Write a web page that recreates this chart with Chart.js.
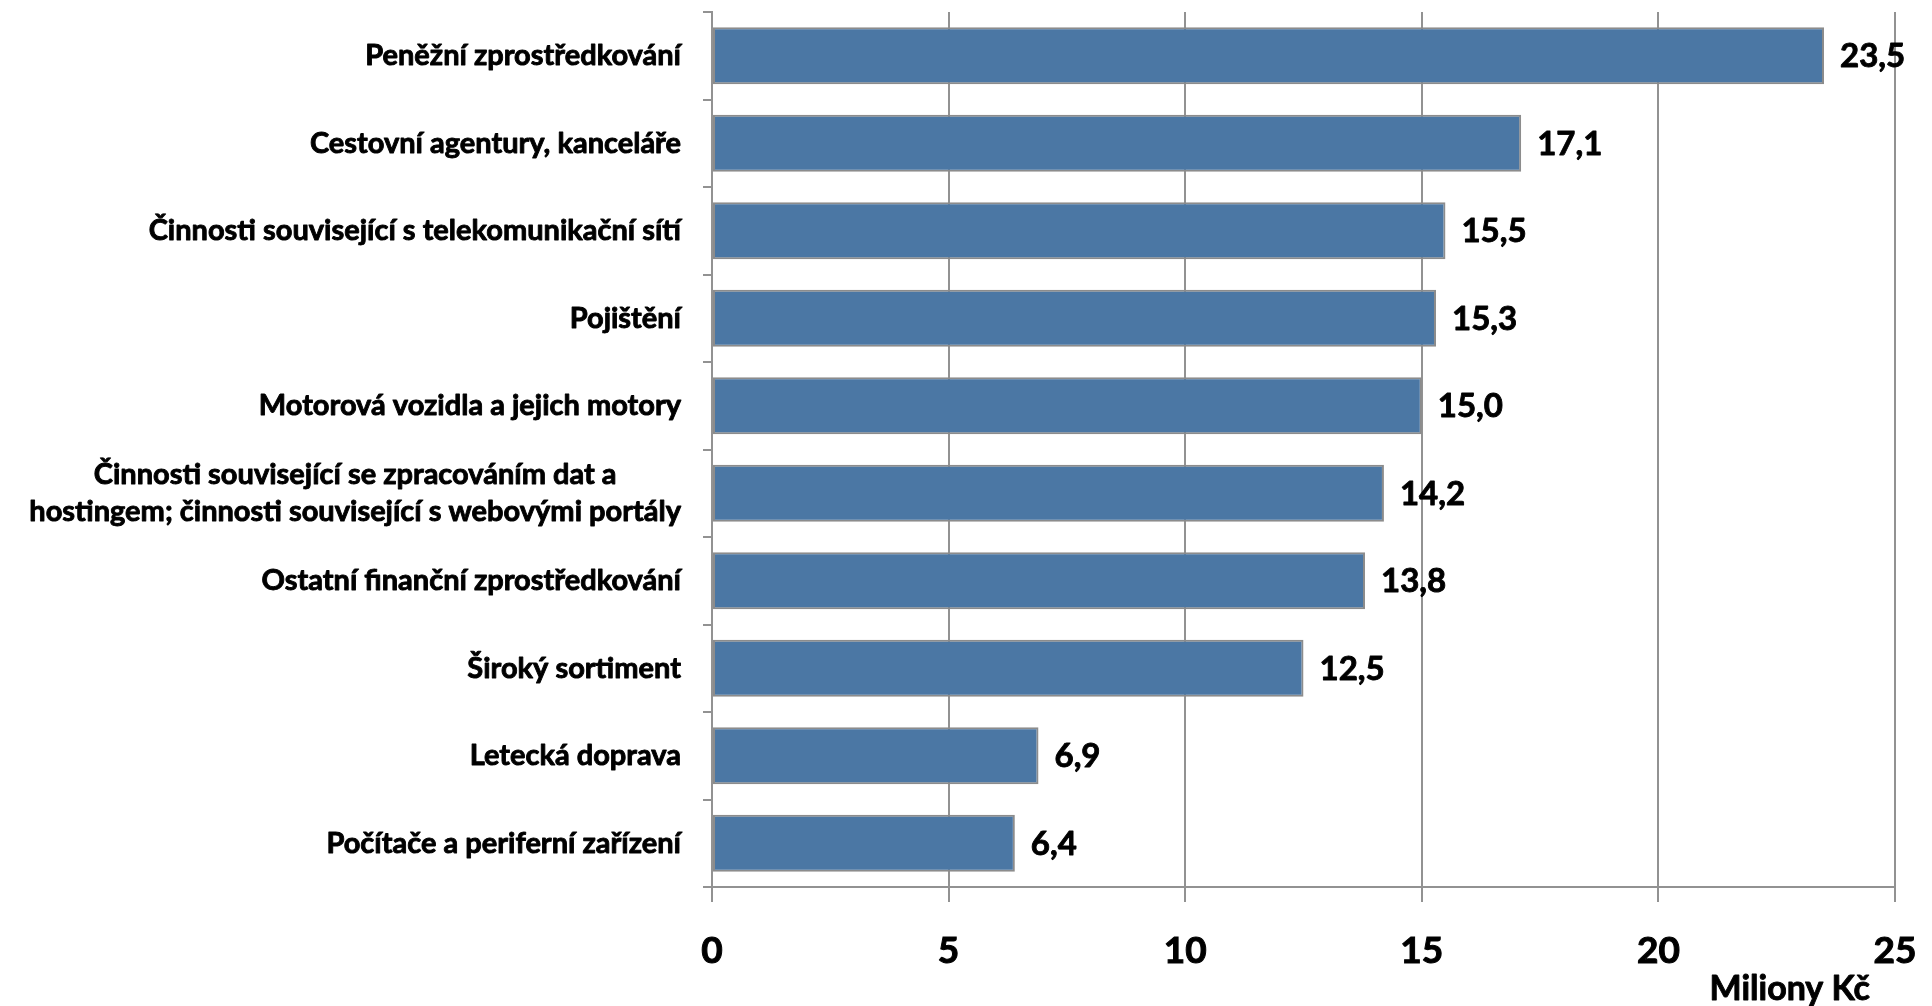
<!DOCTYPE html>
<html>
<head>
<meta charset="utf-8">
<script src="https://cdn.jsdelivr.net/npm/chart.js@4.4.0/dist/chart.umd.min.js"></script>
<style>
  html, body { margin: 0; padding: 0; background: #fff; }
  #wrap { width: 1932px; height: 1006px; }
</style>
</head>
<body>
<div id="wrap"><canvas id="myChart" width="1932" height="1006"></canvas></div>
<script>
var categories = [
    'Peněžní zprostředkování',
    'Cestovní agentury, kanceláře',
    'Činnosti související s telekomunikační sítí',
    'Pojištění',
    'Motorová vozidla a jejich motory',
    ['Činnosti související se zpracováním dat a', 'hostingem; činnosti související s webovými portály'],
    'Ostatní finanční zprostředkování',
    'Široký sortiment',
    'Letecká doprava',
    'Počítače a periferní zařízení'
];
var values = [23.5, 17.1, 15.5, 15.3, 15.0, 14.2, 13.8, 12.5, 6.9, 6.4];
var axisTitle = 'Miliony Kč';

var FONT = 'Lato, "Open Sans", sans-serif';
var GRID = '#929292';

function boldText(ctx, s, x, y) {
    ctx.strokeText(s, x, y);
    ctx.fillText(s, x, y);
}

// value labels, category names and the axis title
var labelPlugin = {
    id: 'labels',
    afterDatasetsDraw: function (chart) {
        var ctx = chart.ctx;
        var meta = chart.getDatasetMeta(0);
        ctx.save();
        ctx.fillStyle = '#000';
        ctx.strokeStyle = '#000';
        ctx.lineWidth = 0.9;
        ctx.lineJoin = 'round';
        ctx.textBaseline = 'middle';
        ctx.font = 'bold 33px ' + FONT;
        ctx.textAlign = 'left';
        meta.data.forEach(function (bar, i) {
            boldText(ctx, values[i].toFixed(1).replace('.', ','), bar.x + 16, bar.y + 1);
        });

        var yScale = chart.scales.y;
        ctx.font = 'bold 29px ' + FONT;
        ctx.textAlign = 'center';
        var right = yScale.right - 31;
        categories.forEach(function (lab, i) {
            var lines = Array.isArray(lab) ? lab : [lab];
            var w = 0;
            lines.forEach(function (l) { w = Math.max(w, ctx.measureText(l).width); });
            var cy = yScale.getPixelForValue(i);
            var lh = 37;
            lines.forEach(function (l, j) {
                boldText(ctx, l, right - w / 2, cy + (j - (lines.length - 1) / 2) * lh);
            });
        });

        ctx.font = 'bold 34px ' + FONT;
        ctx.textAlign = 'right';
        boldText(ctx, axisTitle, chart.chartArea.right - 25, 989);
        ctx.restore();
    }
};

var ctx = document.getElementById('myChart').getContext('2d');
var myChart = new Chart(ctx, {
    type: 'bar',
    data: {
        labels: categories,
        datasets: [{
            data: values,
            backgroundColor: '#4b77a4',
            borderColor: '#8c8c8c',
            borderWidth: 2,
            borderSkipped: false,
            barPercentage: 0.65,
            categoryPercentage: 1.0
        }]
    },
    options: {
        responsive: false,
        animation: false,
        indexAxis: 'y',
        layout: { padding: { left: 0, right: 37, top: 12, bottom: 0 } },
        plugins: {
            legend: { display: false },
            tooltip: { enabled: false }
        },
        scales: {
            y: {
                grid: { display: true, drawOnChartArea: false, offset: true, tickLength: 9, color: GRID, lineWidth: 2 },
                border: { color: GRID, width: 2 },
                ticks: { display: false },
                afterFit: function (scale) { scale.width = 712; }
            },
            x: {
                min: 0,
                max: 25,
                ticks: {
                    stepSize: 5,
                    padding: 27,
                    color: '#000',
                    textStrokeColor: '#000',
                    textStrokeWidth: 1,
                    font: { family: FONT, size: 37, weight: 'bold' }
                },
                grid: { color: GRID, lineWidth: 2, tickLength: 15 },
                border: { color: GRID, width: 2 },
                afterFit: function (scale) {
                    scale.height = 119;
                    scale.paddingLeft = 0;
                    scale.paddingRight = 0;
                }
            }
        }
    },
    plugins: [labelPlugin]
});
</script>
</body>
</html>
